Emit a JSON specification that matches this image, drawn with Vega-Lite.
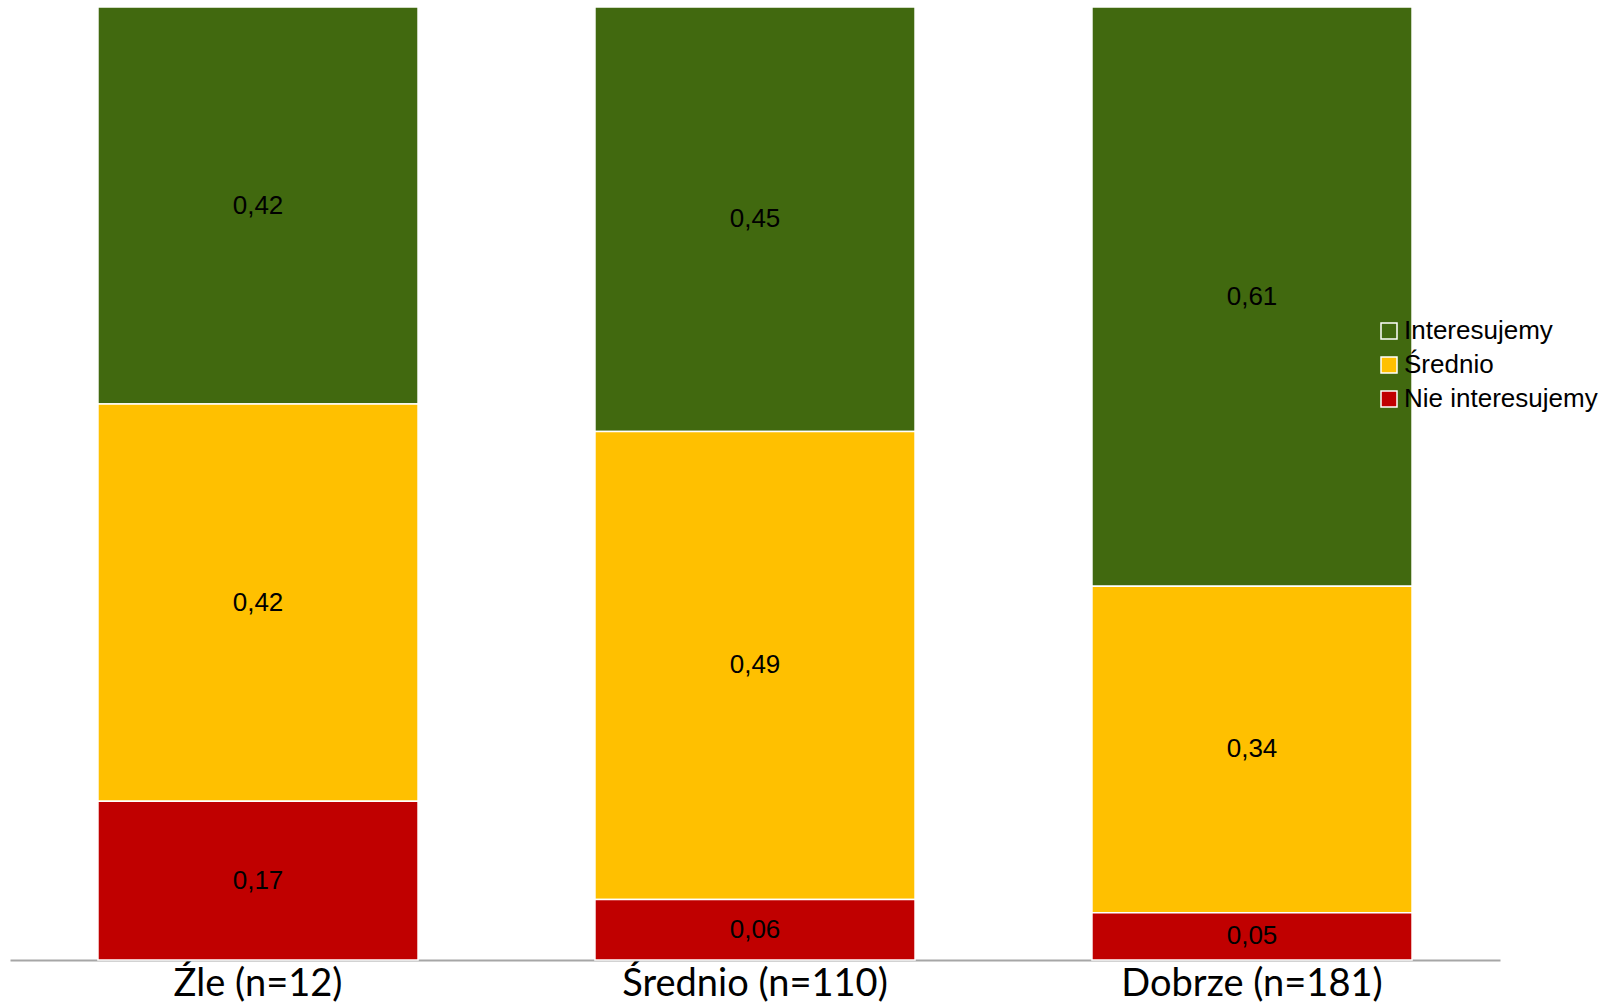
{
  "$schema": "https://vega.github.io/schema/vega-lite/v6.json",
  "autosize": {"type": "none"},
  "width": 1490,
  "height": 953,
  "padding": {"left": 10, "top": 7, "right": 104, "bottom": 45},
  "background": "white",
  "config": {
    "view": {"stroke": null},
    "locale": {"number": {"decimal": ",", "thousands": " ", "grouping": [3], "currency": ["", " zł"]}}
  },
  "data": {
    "values": [
      {"grupa": "Źle (n=12)", "kategoria": "Interesujemy", "poziom": 3, "udzial": 0.4167},
      {"grupa": "Źle (n=12)", "kategoria": "Średnio", "poziom": 2, "udzial": 0.4167},
      {"grupa": "Źle (n=12)", "kategoria": "Nie interesujemy", "poziom": 1, "udzial": 0.1667},
      {"grupa": "Średnio (n=110)", "kategoria": "Interesujemy", "poziom": 3, "udzial": 0.4455},
      {"grupa": "Średnio (n=110)", "kategoria": "Średnio", "poziom": 2, "udzial": 0.4909},
      {"grupa": "Średnio (n=110)", "kategoria": "Nie interesujemy", "poziom": 1, "udzial": 0.0636},
      {"grupa": "Dobrze (n=181)", "kategoria": "Interesujemy", "poziom": 3, "udzial": 0.6077},
      {"grupa": "Dobrze (n=181)", "kategoria": "Średnio", "poziom": 2, "udzial": 0.3425},
      {"grupa": "Dobrze (n=181)", "kategoria": "Nie interesujemy", "poziom": 1, "udzial": 0.0497}
    ]
  },
  "encoding": {
    "x": {
      "field": "grupa",
      "type": "nominal",
      "sort": ["Źle (n=12)", "Średnio (n=110)", "Dobrze (n=181)"],
      "scale": {"paddingInner": 0.356, "paddingOuter": 0.177},
      "axis": {
        "title": null,
        "labelAngle": 0,
        "ticks": false,
        "labelFont": "Lato",
        "labelFontSize": 38,
        "labelLimit": 0,
        "labelColor": "#000000",
        "labelPadding": 5,
        "domainColor": "#a6a6a6",
        "domainWidth": 2
      }
    },
    "order": {"field": "poziom", "type": "quantitative", "sort": "ascending"}
  },
  "layer": [
    {
      "mark": {"type": "bar", "stroke": "white", "strokeWidth": 1.5},
      "encoding": {
        "y": {"field": "udzial", "type": "quantitative", "stack": "normalize", "axis": null},
        "color": {
          "field": "kategoria",
          "type": "nominal",
          "sort": ["Interesujemy", "Średnio", "Nie interesujemy"],
          "scale": {
            "domain": ["Interesujemy", "Średnio", "Nie interesujemy"],
            "range": ["#41690f", "#ffc000", "#c00000"]
          },
          "legend": {
            "title": null,
            "orient": "none",
            "legendX": 1366,
            "legendY": 311,
            "padding": 0,
            "symbolType": "square",
            "symbolSize": 256,
            "symbolStrokeColor": "white",
            "symbolStrokeWidth": 1.5,
            "labelFont": "Liberation Sans",
            "labelFontSize": 26,
            "labelLimit": 0,
            "labelColor": "#000000",
            "labelOffset": 2,
            "rowPadding": 8
          }
        }
      }
    },
    {
      "mark": {"type": "text", "font": "Liberation Sans", "fontSize": 26, "color": "#000000", "baseline": "middle"},
      "encoding": {
        "y": {"field": "udzial", "type": "quantitative", "stack": "normalize", "bandPosition": 0.5},
        "detail": {"field": "kategoria", "type": "nominal"},
        "text": {"field": "udzial", "type": "quantitative", "format": ".2f"}
      }
    }
  ]
}
